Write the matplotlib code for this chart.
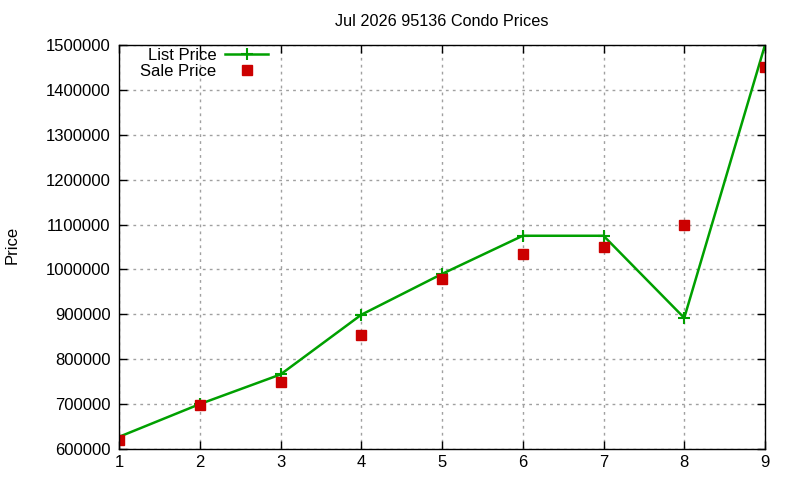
import matplotlib
matplotlib.use("Agg")
import matplotlib.pyplot as plt

# Werte
months = [1, 2, 3, 4, 5, 6, 7, 8, 9]
list_price = [627000, 700000, 766000, 899000, 990000, 1075000, 1075000, 892000, 1500000]
sale_price = [621000, 699000, 750000, 854000, 978000, 1035000, 1050000, 1100000, 1451000]
y_ticks = [600000, 700000, 800000, 900000, 1000000, 1100000, 1200000, 1300000, 1400000, 1500000]

plt.rcParams['font.family'] = ['Liberation Sans', 'DejaVu Sans']

fig = plt.figure(figsize=(8, 4.8), dpi=100)
ax = fig.add_axes([0.14875, 0.0646, 0.8075, 0.8417])

ax.plot(months, list_price, color='#00a000', linewidth=1.8, marker='+',
        markersize=9, markeredgewidth=1.5, label='List Price')
ax.plot(months, sale_price, color='#cc0000', linestyle='none', marker='s',
        markersize=6.5, label='Sale Price')

ax.set_xlim(1, 9)
ax.set_ylim(600000, 1500000)
ax.set_xticks(months)
ax.set_yticks(y_ticks)
ax.set_yticklabels([str(v) for v in y_ticks])
ax.tick_params(direction='in', top=True, right=True, labelsize=12, length=6, width=1)
ax.tick_params(axis='y', pad=6)
ax.tick_params(axis='x', pad=4)
ax.grid(True, color='#a0a0a0', linestyle=(0, (2, 3)), linewidth=1)
for s in ax.spines.values():
    s.set_linewidth(1)

ax.set_title('Jul 2026 95136 Condo Prices', fontsize=11.7, pad=14)
fig.text(0.006, 0.49, 'Price', rotation=90, fontsize=12, va='center', ha='left')

ax.legend(loc='upper left', bbox_to_anchor=(0.028, 1.0), frameon=False, markerfirst=False,
          fontsize=12, handlelength=2.6, handletextpad=0.5, borderaxespad=0, borderpad=0.2,
          labelspacing=0.05, bbox_transform=ax.transAxes)

fig.savefig('out.png', dpi=100)
